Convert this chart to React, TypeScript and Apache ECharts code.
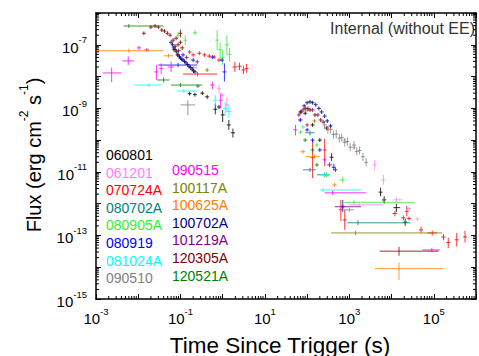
import { useEffect, useRef } from 'react';
import * as echarts from 'echarts';

// Each point: [t, F] or [t, F, tLo, tHi, FLo, FHi]  (t in s, F in erg cm^-2 s^-1)
const grb060801: number[][] = [
  [0.165, 2.9e-9], [0.22, 2.7e-9], [0.33, 3.0e-9], [0.43, 2.3e-9],
  [0.67, 9.3e-10, 0.62, 0.72, 6.5e-10, 1.4e-9], [0.82, 1.1e-9],
  [1.0, 6.2e-10, 0.93, 1.08, 3.7e-10, 8.9e-10], [1.4, 3.0e-10, 1.3, 1.5, 2.1e-10, 4.3e-10],
  [1.75, 1.7e-10, 1.65, 1.85, 1.2e-10, 2.3e-10],
  [90, 7e-10], [135, 3e-10], [200, 1e-10], [380, 2.9e-11, 340, 420, 2.2e-11, 3.9e-11],
  [5500, 2.3e-12, 5000, 6000, 1.7e-12, 3.2e-12], [6700, 1.32e-12, 6000, 7500, 1e-12, 1.7e-12],
  [1.3e4, 7.5e-13, 1.1e4, 1.6e4, 5.5e-13, 1e-12], [2.1e4, 2.6e-13, 1.9e4, 2.3e4, 2e-13, 3.4e-13],
];
const grb061201: number[][] = [
  [0.82, 4.1e-9, 0.75, 0.9, 3e-9, 5.5e-9], [1.0, 2.6e-9], [1.26, 1.3e-9, 1.15, 1.4, 7.5e-10, 2.2e-9],
  [69, 4.3e-10], [760, 1e-10], [1290, 5.9e-11],
  [4000, 1.66e-11, 3900, 4100, 1.1e-11, 2.4e-11], [6400, 5.6e-12, 6200, 6600, 3.9e-12, 8.1e-12],
  [1700, 9.2e-13, 1000, 6400, 8e-13, 1.05e-12], [1.3e4, 1.32e-12, 1.1e4, 1.8e4, 1.1e-12, 1.6e-12],
  [2.6e4, 7e-13], [4.1e4, 3.3e-13],
];
const grb070724A: number[][] = [
  [0.255, 1.2e-8, 0.115, 0.74, 1e-8, 1.4e-8],
  [0.165, 5.9e-8], [0.2, 4.8e-8], [0.28, 5.4e-8], [0.37, 4.8e-8], [0.48, 4.4e-8], [0.63, 4.1e-8], [0.82, 3.3e-8],
  [1.95, 2.0e-8, 1.7, 2.2, 1.4e-8, 2.9e-8], [2.5, 2.1e-8, 2.3, 2.7, 1.6e-8, 2.7e-8],
  [3.1, 1.6e-8, 2.9, 3.3, 1.2e-8, 2.2e-8], [3.7, 1.8e-8, 3.5, 3.9, 1.3e-8, 2.5e-8],
  [100, 3e-10], [135, 2.8e-11, 128, 142, 6.4e-12, 1e-10], [261, 4.9e-11, 250, 272, 1.5e-11, 1.1e-10],
  [630, 6.4e-13, 600, 660, 2.8e-13, 1.32e-12], [780, 3.1e-13, 740, 820, 1.5e-13, 6.4e-13],
  [1.2e4, 4.9e-13, 1.05e4, 1.35e4, 4e-13, 6e-13], [1.9e4, 3.6e-13, 1.7e4, 2.1e4, 3e-13, 4.3e-13],
  [2.3e4, 5.7e-13, 2.2e4, 2.4e4, 4e-13, 8.5e-13], [2.6e4, 3.4e-13],
  [5.0e4, 1.5e-13, 4.6e4, 5.4e4, 1.2e-13, 1.9e-13], [9.2e4, 1.2e-13, 7e4, 1.2e5, 1e-13, 1.4e-13],
  [1.7e5, 8.9e-14, 1.5e5, 1.9e5, 7e-14, 1.1e-13], [2.2e5, 6e-14, 2.1e5, 2.3e5, 4e-14, 8.5e-14],
  [3.5e5, 7.3e-14, 3.4e5, 3.6e5, 4.5e-14, 1.2e-13], [5.5e5, 9e-14, 5.3e5, 5.7e5, 6e-14, 1.4e-13],
];
const grb080702A: number[][] = [
  [0.26, 5e-9],
  [117, 1.7e-10, 90, 150, 1.4e-10, 2e-10], [117, 1.16e-11, 80, 160, 1e-11, 1.35e-11],
  [260, 8.1e-12, 170, 340, 7e-12, 9.5e-12], [1600, 2.5e-13, 900, 2.8e4, 2.1e-13, 3e-13],
];
const grb080905A: number[][] = [
  [0.088, 2e-7, 0.08, 0.097, 1.6e-7, 2.6e-7], [0.13, 1.4e-7, 0.12, 0.14, 9.9e-8, 2e-7],
  [0.22, 2.4e-7, 0.2, 0.24, 2e-7, 2.9e-7], [0.74, 1.4e-7, 0.72, 0.76, 6.9e-8, 2.9e-7],
  [0.87, 7e-8, 0.85, 0.89, 3.3e-8, 1.2e-7], [1.0, 3.9e-8, 0.98, 1.02, 2.3e-8, 6.9e-8],
  [1.26, 1e-7, 1.23, 1.29, 4.8e-8, 2e-7], [1.45, 5e-8, 1.42, 1.48, 3e-8, 8e-8],
  [69, 1.8e-10], [170, 7e-11], [290, 8e-12, 260, 340, 6.5e-12, 1e-11],
  [700, 5.6e-12, 580, 760, 4.6e-12, 7e-12], [1290, 1.1e-12, 760, 3.5e4, 9.5e-13, 1.3e-12],
];
const grb080919: number[][] = [
  [0.115, 4.8e-8], [0.2, 3.3e-8], [0.088, 2.3e-8, 0.03, 0.25, 2e-8, 2.7e-8], [0.57, 4.1e-8], [0.97, 3.3e-8],
  [1.1, 1.4e-8, 1.07, 1.13, 7e-9, 2.6e-8],
  [69, 4.3e-10], [100, 2.1e-10], [135, 1e-10], [200, 4.9e-11],
  [430, 1.4e-11, 380, 480, 1.1e-11, 1.8e-11], [700, 8e-13, 670, 730, 5.5e-13, 1.3e-12],
];
const grb081024A: number[][] = [
  [0.018, 5.4e-9, 0.008, 0.035, 4.8e-9, 6e-9], [0.12, 3.5e-9, 0.08, 0.25, 3.1e-9, 4e-9],
  [0.67, 1.8e-9, 0.63, 0.71, 1.2e-9, 2.6e-9], [1.15, 1e-9, 1.1, 1.2, 6e-10, 1.6e-9],
  [1.4, 8e-10, 1.35, 1.45, 5e-10, 1.3e-9],
  [80, 2.6e-10], [260, 8e-12, 200, 330, 7e-12, 9e-12], [240, 2.7e-12, 200, 1900, 2.4e-12, 3e-12],
];
const grb090510: number[][] = [
  [0.15, 1.28e-9, 0.1, 0.22, 6e-10, 1.8e-9],
  [260, 3e-10, 250, 270, 2.2e-10, 4e-10], [310, 2.1e-10, 300, 320, 1.6e-10, 2.8e-10],
  [360, 2.2e-10, 348, 372, 1.6e-10, 3e-10], [420, 1.5e-10, 405, 435, 1.1e-10, 2e-10],
  [490, 1.55e-10, 473, 507, 1.15e-10, 2.1e-10], [580, 1.15e-10, 560, 600, 8.5e-11, 1.55e-10],
  [660, 1.2e-10, 637, 683, 9e-11, 1.6e-10], [780, 8.5e-11, 750, 810, 6.3e-11, 1.15e-10],
  [900, 9e-11, 870, 930, 6.7e-11, 1.2e-10], [1050, 6e-11, 1010, 1090, 4.5e-11, 8.1e-11],
  [1290, 7e-11, 1240, 1340, 5.2e-11, 9.4e-11], [1500, 4.4e-11, 1440, 1560, 3.3e-11, 5.9e-11],
  [1750, 4.7e-11, 1690, 1810, 3.5e-11, 6.3e-11], [2100, 3e-11, 2020, 2180, 2.2e-11, 4e-11],
  [2500, 2e-11, 2400, 2600, 1.5e-11, 2.7e-11],
  [1000, 6.4e-13, 760, 1300, 6e-13, 7e-13], [6500, 1.3e-12, 6000, 7200, 1.1e-12, 1.5e-12],
];
const grb090515: number[][] = [
  [2.35e-3, 1.3e-8, 1.45e-3, 4e-3, 6.7e-9, 1.9e-8], [5.8e-3, 3.1e-8, 4.2e-3, 8e-3, 2.3e-8, 4.3e-8],
  [0.0104, 8e-8, 0.0095, 0.0115, 7e-8, 9e-8], [0.016, 6.9e-8, 0.014, 0.018, 6e-8, 8e-8],
  [0.027, 1.4e-8, 0.024, 0.03, 7.8e-9, 2.3e-8], [0.035, 1.8e-8, 0.032, 0.038, 1.2e-8, 2.6e-8],
  [0.06, 2e-8, 0.05, 0.07, 1.4e-8, 3e-8],
  [0.57, 5.4e-9, 0.55, 0.6, 4e-9, 7e-9], [0.9, 1.8e-9, 0.87, 0.93, 1e-9, 3e-9],
  [53, 2.1e-10, 50, 56, 1.4e-10, 3e-10], [260, 2.4e-11],
  [400, 2.2e-12, 260, 2500, 2e-12, 2.4e-12], [9e4, 3.5e-14, 5.4e4, 1.4e5, 3.2e-14, 3.8e-14],
];
const grb100117A: number[][] = [
  [0.43, 1.6e-8], [100, 8.9e-10], [150, 4e-10], [1400, 1.2e-13, 370, 1.6e5, 1.1e-13, 1.3e-13],
];
const grb100625A: number[][] = [
  [6e-3, 6.5e-8, 1e-3, 0.04, 6e-8, 7e-8], [0.052, 4.5e-8, 0.04, 0.067, 4e-8, 5e-8],
  [0.2, 1.9e-8, 0.15, 0.255, 1.7e-8, 2.1e-8],
  [80, 4.3e-11, 69, 90, 3.8e-11, 4.9e-11], [150, 3e-11, 90, 200, 2.6e-11, 3.4e-11],
  [445, 3.9e-12, 400, 500, 3.4e-12, 4.5e-12], [1.5e4, 9e-15, 4000, 1.7e5, 4e-15, 1.4e-14],
];
const grb100702A: number[][] = [
  [0.06, 1.2e-7], [0.065, 1e-7], [0.07, 8e-8], [0.075, 7e-8], [0.08, 6e-8], [0.088, 4.8e-8],
  [0.095, 4.2e-8], [0.1, 3.8e-8], [0.108, 3.5e-8], [0.115, 3.3e-8], [0.125, 3e-8], [0.135, 2.7e-8],
  [0.148, 2.4e-8], [0.16, 2.1e-8], [0.175, 1.9e-8], [0.19, 1.7e-8], [0.205, 1.5e-8], [0.22, 1.4e-8],
  [72, 7.7e-10], [85, 1.2e-9], [100, 1.5e-9], [117, 1.6e-9], [135, 1.5e-9], [160, 1.3e-9],
  [190, 1e-9], [220, 7.7e-10], [260, 5.7e-10], [300, 4e-10], [360, 2.8e-10],
];
const grb101219A: number[][] = [
  [0.14, 4e-8], [0.25, 2.9e-8],
  [64, 6.2e-10], [80, 8.9e-10], [105, 1e-9], [135, 8.9e-10], [180, 6.2e-10], [240, 3.7e-10],
  [340, 1.66e-11, 300, 390, 1.4e-11, 2e-11], [470, 1.16e-11, 420, 520, 1e-11, 1.35e-11],
  [700, 8e-13, 450, 1900, 7e-13, 9e-13],
];
const grb120305A: number[][] = [
  [0.0136, 2.3e-7], [0.02, 3.6e-7], [0.025, 3.9e-7], [0.03, 3.6e-7], [0.036, 2.9e-7], [0.042, 2.7e-7],
  [0.049, 2.3e-7], [0.057, 2e-7], [0.067, 1.4e-7], [0.079, 1.6e-7], [0.088, 1e-7], [0.1, 1.2e-7],
  [0.07, 7e-8], [0.085, 4.8e-8], [0.1, 2.3e-7, 0.095, 0.105, 1.7e-7, 3e-7], [0.075, 9e-8],
  [0.09, 6.5e-8], [0.11, 8e-8],
  [69, 7.7e-10], [90, 1e-9], [117, 8.9e-10], [153, 6.2e-10], [210, 4.3e-10], [290, 2.4e-10],
  [1.5e4, 3.2e-14, 5200, 1.3e5, 2.3e-14, 4.4e-14],
];
const grb120521A: number[][] = [
  [6e-3, 3.9e-7, 4.5e-3, 0.04, 3.5e-7, 4.4e-7], [0.04, 7.8e-9, 0.028, 0.055, 6.5e-9, 9.5e-9],
  [0.1, 5.4e-9, 0.06, 0.33, 5e-9, 5.9e-9],
  [90, 1e-10], [135, 4.9e-11], [170, 1.66e-11],
];

const seriesNames = [
  '060801', '061201', '070724A', '080702A', '080905A', '080919', '081024A', '090510',
  '090515', '100117A', '100625A', '100702A', '101219A', '120305A', '120521A',
];
const seriesColors = [
  '#000000', '#ff80ff', '#ff0000', '#008080', '#33ee33', '#0000ff', '#00ffff', '#808080',
  '#ff00ff', '#808000', '#ff8000', '#000080', '#800080', '#800000', '#008000',
];
const seriesData = [
  grb060801, grb061201, grb070724A, grb080702A, grb080905A, grb080919, grb081024A, grb090510,
  grb090515, grb100117A, grb100625A, grb100702A, grb101219A, grb120305A, grb120521A,
];

const xMin = 1e-3, xMax = 1e6, yMin = 1e-15, yMax = 1e-6;
const FONT = '"Liberation Sans", Arial, Helvetica, sans-serif';

export default function App() {
  const ref = useRef<HTMLDivElement>(null);
  useEffect(() => {
    if (!ref.current) return;
    document.body.style.margin = '0';
    const chart = echarts.init(ref.current, null, { renderer: 'svg' });

    const norm = (p: number[]) => (p.length >= 6 ? p : [p[0], p[1], p[0], p[0], p[1], p[1]]);

    const makeRender = (color: string) => (params: any, api: any) => {
      const t = api.value(0), f = api.value(1);
      const tl = api.value(2), th = api.value(3), fl = api.value(4), fh = api.value(5);
      const c = api.coord([t, f]);
      const l = api.coord([tl, f]);
      const r = api.coord([th, f]);
      const lo = api.coord([t, fl]);
      const hi = api.coord([t, fh]);
      const m = 2;
      const x1 = Math.min(l[0], c[0] - m), x2 = Math.max(r[0], c[0] + m);
      const y1 = Math.max(lo[1], c[1] + m), y2 = Math.min(hi[1], c[1] - m);
      const style = { stroke: color, lineWidth: 1, opacity: 0.8 };
      return {
        type: 'group',
        children: [
          { type: 'line', shape: { x1, y1: c[1], x2, y2: c[1] }, style },
          { type: 'line', shape: { x1: c[0], y1, x2: c[0], y2 }, style },
        ],
      };
    };

    const dataSeries = seriesNames.map((name, i) => ({
      name,
      type: 'custom',
      coordinateSystem: 'cartesian2d',
      xAxisIndex: 0,
      yAxisIndex: 0,
      clip: true,
      encode: { x: 0, y: 1 },
      data: seriesData[i].map(norm),
      renderItem: makeRender(seriesColors[i]),
    }));

    // minor (log) ticks on all four sides
    const minorTicks: number[][] = [];
    for (let e = -3; e < 6; e++) for (let k = 2; k <= 9; k++) minorTicks.push([k * Math.pow(10, e), 1e-10, 0]);
    for (let e = -15; e < -6; e++) for (let k = 2; k <= 9; k++) minorTicks.push([0.01, k * Math.pow(10, e), 1]);
    const tickSeries = {
      name: 'ticks',
      type: 'custom',
      coordinateSystem: 'cartesian2d',
      silent: true,
      clip: false,
      encode: { x: 0, y: 1 },
      data: minorTicks,
      z: 5,
      renderItem: (params: any, api: any) => {
        const cs = params.coordSys;
        const p = api.coord([api.value(0), api.value(1)]);
        const L = 3;
        const style = { stroke: '#000', lineWidth: 1 };
        if (api.value(2) === 0) {
          return {
            type: 'group',
            children: [
              { type: 'line', shape: { x1: p[0], y1: cs.y + cs.height, x2: p[0], y2: cs.y + cs.height - L }, style },
              { type: 'line', shape: { x1: p[0], y1: cs.y, x2: p[0], y2: cs.y + L }, style },
            ],
          };
        }
        return {
          type: 'group',
          children: [
            { type: 'line', shape: { x1: cs.x, y1: p[1], x2: cs.x + L, y2: p[1] }, style },
            { type: 'line', shape: { x1: cs.x + cs.width, y1: p[1], x2: cs.x + cs.width - L, y2: p[1] }, style },
          ],
        };
      },
    };

    const supLabel = (v: number) => {
      const e = Math.round(Math.log10(v));
      if (Math.abs(e) % 2 === 0) return '';
      return `{b|10}{s|${e}}`;
    };
    const labelRich = {
      b: { fontSize: 15, fontFamily: FONT, color: '#000', lineHeight: 20, verticalAlign: 'bottom' },
      s: { fontSize: 9.5, fontFamily: FONT, color: '#000', lineHeight: 8, verticalAlign: 'top' },
    };
    const axisLine = { show: true, lineStyle: { color: '#000', width: 1.5 } };
    const axisTick = { show: true, inside: true, length: 5, lineStyle: { color: '#000', width: 1 } };

    const legendBase = {
      orient: 'vertical',
      itemWidth: 0,
      itemHeight: 14,
      itemGap: 3.6,
      icon: 'none',
      padding: 0,
      selectedMode: false,
      textStyle: { fontSize: 14, fontFamily: FONT, lineHeight: 14 },
    };

    chart.setOption({
      animation: false,
      backgroundColor: '#ffffff',
      grid: { left: 96, top: 13, width: 390, height: 286, containLabel: false },
      xAxis: [
        {
          type: 'log', min: xMin, max: xMax, splitNumber: 9, logBase: 10,
          axisLine, axisTick, splitLine: { show: false }, minorTick: { show: false },
          axisLabel: { formatter: supLabel, rich: labelRich, margin: 7, showMinLabel: true, showMaxLabel: true, hideOverlap: false },
        },
        {
          type: 'log', min: xMin, max: xMax, splitNumber: 9, position: 'top',
          axisLine, axisTick, splitLine: { show: false }, axisLabel: { show: false },
        },
      ],
      yAxis: [
        {
          type: 'log', min: yMin, max: yMax, splitNumber: 9, logBase: 10,
          axisLine, axisTick, splitLine: { show: false }, minorTick: { show: false },
          axisLabel: { formatter: supLabel, rich: labelRich, margin: 9, showMinLabel: true, showMaxLabel: true, hideOverlap: false },
        },
        {
          type: 'log', min: yMin, max: yMax, splitNumber: 9, position: 'right',
          axisLine, axisTick, splitLine: { show: false }, axisLabel: { show: false },
        },
      ],
      legend: [
        {
          ...legendBase, left: 101, top: 148,
          data: seriesNames.slice(0, 8).map((n, i) => ({ name: n, textStyle: { color: seriesColors[i] } })),
        },
        {
          ...legendBase, left: 167, top: 163,
          data: seriesNames.slice(8).map((n, i) => ({ name: n, textStyle: { color: seriesColors[i + 8] } })),
        },
      ],
      graphic: [
        {
          type: 'text', x: 475, y: 28,
          style: { text: 'Internal (without EE)', fill: '#333', font: `16px ${FONT}`, align: 'right', verticalAlign: 'middle' },
        },
        {
          type: 'text', x: 280, y: 345,
          style: { text: 'Time Since Trigger (s)', fill: '#000', font: `22.5px ${FONT}`, align: 'center', verticalAlign: 'middle' },
        },
        {
          type: 'text', x: 31, y: 155, rotation: Math.PI / 2,
          style: {
            text: '{b|Flux (erg cm}{s|-2}{b| s}{s|-1}{b|)}',
            align: 'center', verticalAlign: 'middle',
            rich: {
              b: { fontSize: 20, fontFamily: FONT, fill: '#000', lineHeight: 26, verticalAlign: 'bottom' },
              s: { fontSize: 12, fontFamily: FONT, fill: '#000', lineHeight: 12, verticalAlign: 'top' },
            },
          },
        },
      ],
      series: [...dataSeries, tickSeries],
    });
    return () => chart.dispose();
  }, []);
  return <div ref={ref} style={{ width: 479, height: 356 }} />;
}
